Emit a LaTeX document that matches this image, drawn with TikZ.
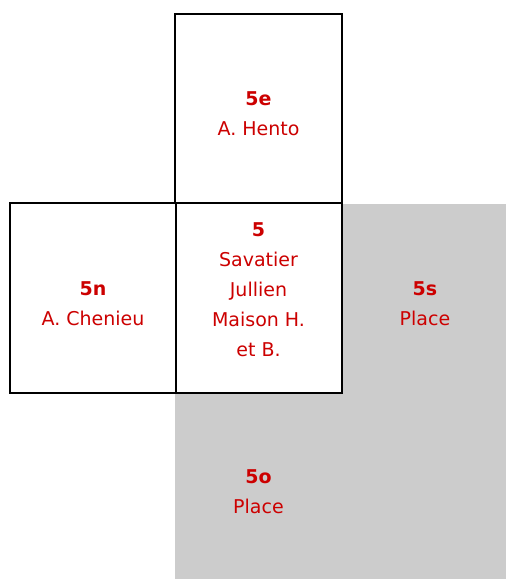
\documentclass[tikz,border=0pt]{standalone}
\usepackage{fontspec}
\setmainfont{DejaVu Sans}
\definecolor{placegray}{HTML}{CCCCCC}
\definecolor{txtred}{HTML}{CC0000}
\begin{document}
\begin{tikzpicture}[x=1pt,y=-1pt,
  box/.style={draw=black,line width=2.2pt,fill=white,inner sep=0pt,minimum width=#1},
  box/.default=166pt,
  lbl/.style={text=txtred,align=center,inner sep=0pt,font=\fontsize{19}{30}\selectfont}]
\useasboundingbox (0,0) rectangle (506,579);
\fill[placegray] (175,204) rectangle (506,579);
\node[box=167pt,minimum height=189pt] (e) at (258.5,108.5) {};
\node[box=166pt,minimum height=190pt] (m) at (259,298) {};
\node[box=166pt,minimum height=190pt] (n) at (93,298) {};
\node[lbl] (le) at (258.5,114) {\textbf{5e}\\A. Hento};
\node[lbl] (lm) at (258.5,289.5) {\textbf{5}\\Savatier\\Jullien\\Maison H.\\et B.};
\node[lbl] (ln) at (93,304) {\textbf{5n}\\A. Chenieu};
\node[lbl] (ls) at (425,304) {\textbf{5s}\\Place};
\node[lbl] (lo) at (258.5,492) {\textbf{5o}\\Place};
\end{tikzpicture}
\end{document}
